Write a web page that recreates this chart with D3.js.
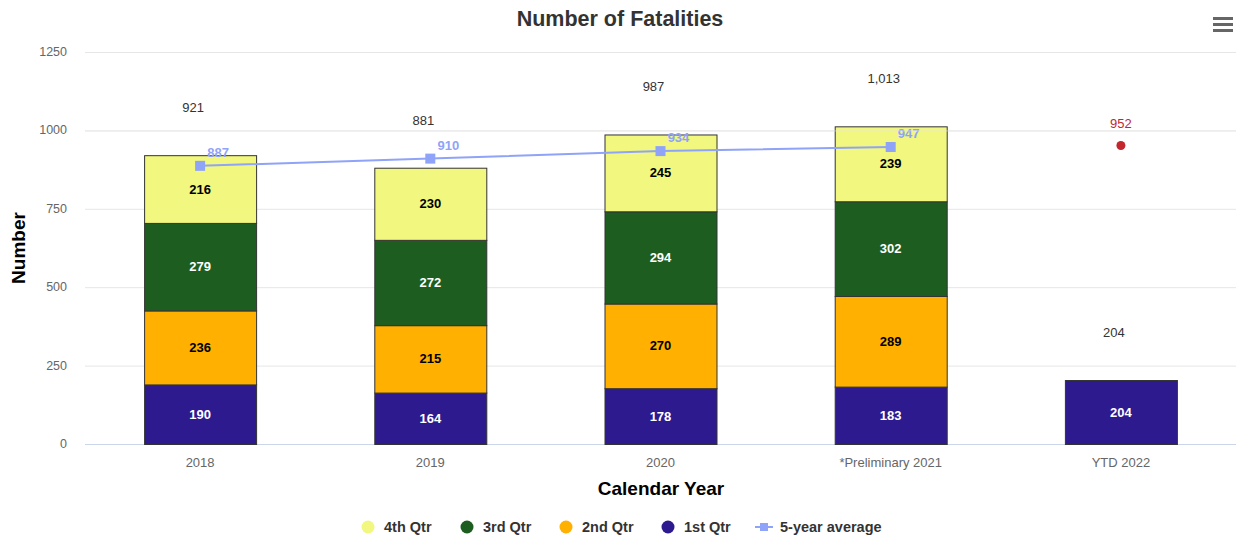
<!DOCTYPE html>
<html><head><meta charset="utf-8">
<script src="https://cdn.jsdelivr.net/npm/d3@7"></script>
<style>body{margin:0;background:#fff;font-family:"Liberation Sans",Arial,sans-serif;}svg{display:block}</style>
</head><body><svg id="c" width="1237" height="540"></svg>
<script>
const categories = ["2018","2019","2020","*Preliminary 2021","YTD 2022"];
const q1 = [190,164,178,183,204];
const q2 = [236,215,270,289,null];
const q3 = [279,272,294,302,null];
const q4 = [216,230,245,239,null];
const avg5 = [887,910,934,947,null];
const ytdPoint = [null,null,null,null,952];
const yTicks = [0,250,500,750,1000,1250];
const seriesNames = ["4th Qtr","3rd Qtr","2nd Qtr","1st Qtr","5-year average"];

(function(){
const colors = {q4:"#F2F77F", q3:"#1D5E20", q2:"#FFB000", q1:"#2E1A8F", avg:"#8FA3F8", red:"#C1272D"};
const svg = d3.select("#c");
const pL=85, pR=1236, pT=52, pB=444;
const x = d3.scaleBand().domain(categories).range([pL,pR]).paddingInner(0).paddingOuter(0);
const y = d3.scaleLinear().domain([0,1250]).range([pB,pT]);
const barW = 112;

svg.append("g").selectAll("line").data(yTicks.filter(d=>d>0)).join("line")
  .attr("x1",pL).attr("x2",pR).attr("y1",d=>y(d)+0.5).attr("y2",d=>y(d)+0.5)
  .attr("stroke","#e6e6e6").attr("stroke-width",1);
svg.append("g").selectAll("text").data(yTicks).join("text")
  .attr("x",67).attr("y",d=>y(d)+4).attr("text-anchor","end")
  .attr("font-size",12.5).attr("fill","#666").text(d=>d);
svg.append("line").attr("x1",pL).attr("x2",pR).attr("y1",pB+0.5).attr("y2",pB+0.5).attr("stroke","#ccd6eb");
svg.append("g").selectAll("text").data(categories).join("text")
  .attr("x",d=>x(d)+x.bandwidth()/2).attr("y",467).attr("text-anchor","middle")
  .attr("font-size",13).attr("fill","#666").text(d=>d);

const stackKeys = [["q1",q1,colors.q1,"#fff"],["q2",q2,colors.q2,"#000"],["q3",q3,colors.q3,"#fff"],["q4",q4,colors.q4,"#000"]];
const base = categories.map(()=>0);
const gBars = svg.append("g"), gLab = svg.append("g");
stackKeys.forEach(([k,arr,col,tc])=>{
  categories.forEach((c,i)=>{
    const v = arr[i]; if(v==null) return;
    const y0 = base[i], y1 = base[i]+v;
    const cx = x(c)+x.bandwidth()/2;
    gBars.append("rect").attr("x",cx-barW/2+0.5).attr("y",y(y1)+0.5).attr("width",barW).attr("height",y(y0)-y(y1))
      .attr("fill",col).attr("stroke","#333").attr("stroke-width",1);
    gLab.append("text").attr("x",cx).attr("y",(y(y0)+y(y1))/2+4.5).attr("text-anchor","middle")
      .attr("font-size",13).attr("font-weight","bold").attr("fill",tc).text(v);
    base[i]=y1;
  });
});
svg.append("g").selectAll("text").data(categories).join("text")
  .attr("x",d=>x(d)+x.bandwidth()/2-7).attr("y",(d,i)=>y(base[i])-43)
  .attr("text-anchor","middle").attr("font-size",13).attr("fill","#333")
  .text((d,i)=>d3.format(",")(base[i]));

const avgPts = categories.map((c,i)=>({c,v:avg5[i]})).filter(d=>d.v!=null);
svg.append("path").datum(avgPts)
  .attr("d",d3.line().x(d=>x(d.c)+x.bandwidth()/2).y(d=>y(d.v)))
  .attr("fill","none").attr("stroke",colors.avg).attr("stroke-width",2);
svg.append("g").selectAll("rect").data(avgPts).join("rect")
  .attr("x",d=>x(d.c)+x.bandwidth()/2-5).attr("y",d=>y(d.v)-5).attr("width",10).attr("height",10).attr("fill",colors.avg);
svg.append("g").selectAll("text").data(avgPts).join("text")
  .attr("x",d=>x(d.c)+x.bandwidth()/2+18).attr("y",d=>y(d.v)-9).attr("text-anchor","middle")
  .attr("font-size",13).attr("font-weight","bold").attr("fill",colors.avg).text(d=>d.v);

const redPts = categories.map((c,i)=>({c,v:ytdPoint[i]})).filter(d=>d.v!=null);
svg.append("g").selectAll("circle").data(redPts).join("circle")
  .attr("cx",d=>x(d.c)+x.bandwidth()/2).attr("cy",d=>y(d.v)).attr("r",4.5).attr("fill",colors.red);
svg.append("g").selectAll("text").data(redPts).join("text")
  .attr("x",d=>x(d.c)+x.bandwidth()/2).attr("y",d=>y(d.v)-17).attr("text-anchor","middle")
  .attr("font-size",13).attr("fill",colors.red).text(d=>d.v);
svg.append("line").attr("x1",pL).attr("x2",pR).attr("y1",y(1000)+0.5).attr("y2",y(1000)+0.5)
  .attr("stroke","#e6e6e6").attr("stroke-opacity",0.6);

svg.append("text").attr("x",620).attr("y",26).attr("text-anchor","middle").attr("font-size",21.5)
  .attr("font-weight","bold").attr("fill","#333").text("Number of Fatalities");
svg.append("text").attr("transform","translate(25,248) rotate(-90)").attr("text-anchor","middle")
  .attr("font-size",19).attr("font-weight","bold").attr("fill","#000").text("Number");
svg.append("text").attr("x",661).attr("y",495).attr("text-anchor","middle").attr("font-size",19)
  .attr("font-weight","bold").attr("fill","#000").text("Calendar Year");

[0,6,12].forEach(o=>svg.append("rect").attr("x",1213).attr("y",17+o).attr("width",20).attr("height",3).attr("fill","#666"));

const legColors=[colors.q4,colors.q3,colors.q2,colors.q1,colors.avg];
const legX=[368,467,566,668,764];
const lg = svg.append("g");
seriesNames.forEach((n,i)=>{
  if(i<4){
    lg.append("circle").attr("cx",legX[i]).attr("cy",527).attr("r",6.5).attr("fill",legColors[i]);
  } else {
    lg.append("line").attr("x1",legX[i]-9).attr("x2",legX[i]+9).attr("y1",527).attr("y2",527).attr("stroke",legColors[i]).attr("stroke-width",2);
    lg.append("rect").attr("x",legX[i]-4).attr("y",523).attr("width",8).attr("height",8).attr("fill",legColors[i]);
  }
  lg.append("text").attr("x",legX[i]+16).attr("y",532).attr("font-size",14.5).attr("font-weight","bold").attr("fill","#333").text(n);
});
})();
</script></body></html>
